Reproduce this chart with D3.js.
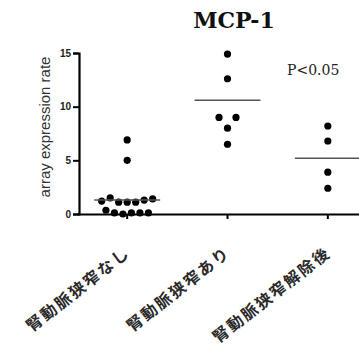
<!DOCTYPE html>
<html>
<head>
<meta charset="utf-8">
<script src="https://cdn.jsdelivr.net/npm/d3@7"></script>
<style>
  body { margin: 0; background: #fff; }
  svg { display: block; }
</style>
</head>
<body>
<svg id="plot"></svg>
<script>
// group names and values
const groups = ['腎動脈狭窄なし', '腎動脈狭窄あり', '腎動脈狭窄解除後'];
const noStenosis = [6.9, 5.0, 1.2, 1.5, 1.1, 1.1, 1.1, 1.3, 1.4, 0.35, 0.1, 0, 0.1, 0.1, 0.1];
const stenosis = [14.9, 12.6, 9.0, 8.0, 9.0, 6.5];
const afterRelease = [8.2, 6.8, 3.9, 2.4];
const meanLines = [1.3, 10.6, 5.2];
const yTicks = [0, 5, 10, 15];

const seriesList = [noStenosis, stenosis, afterRelease];

const W = 359, H = 351;
const svg = d3.select('#plot').attr('width', W).attr('height', H);

const x = d3.scaleBand().domain(groups).range([77, 378]);
const y = d3.scaleLinear().domain([0, 15]).range([214, 53]);

// y axis
svg.append('g')
  .attr('transform', 'translate(79,0)')
  .call(d3.axisLeft(y).tickValues(yTicks).tickSize(6).tickPadding(2))
  .call(g => g.select('.domain').attr('stroke-width', 2.2))
  .call(g => g.selectAll('.tick line').attr('stroke-width', 2))
  .call(g => g.selectAll('.tick text')
    .attr('font-family', 'Liberation Sans, Arial, sans-serif')
    .attr('font-size', 10).attr('font-weight', 'bold').attr('fill', '#222'));

// x axis
svg.append('g')
  .attr('transform', 'translate(0,214)')
  .call(d3.axisBottom(x).tickSize(5).tickSizeOuter(0).tickFormat(''))
  .call(g => g.select('.domain').attr('stroke-width', 2.2))
  .call(g => g.selectAll('.tick line').attr('stroke-width', 2));

// rotated category labels
svg.append('g').selectAll('text')
  .data(groups)
  .join('text')
  .attr('transform', d => `translate(${x(d) + x.bandwidth() / 2 + 4},255) rotate(-38)`)
  .attr('text-anchor', 'end')
  .attr('font-family', 'Noto Sans CJK JP, sans-serif')
  .attr('font-weight', 'bold')
  .attr('font-size', 16)
  .attr('letter-spacing', 2)
  .attr('fill', '#2a2a2a')
  .text(d => d);

// y label
svg.append('text')
  .attr('transform', 'translate(50,127) rotate(-90)')
  .attr('text-anchor', 'middle')
  .attr('font-family', 'Liberation Sans, Arial, sans-serif')
  .attr('font-size', 15)
  .attr('fill', '#333')
  .text('array expression rate');

// title and p value
svg.append('text')
  .attr('x', 234).attr('y', 28)
  .attr('text-anchor', 'middle')
  .attr('font-family', 'DejaVu Serif, serif')
  .attr('font-weight', 'bold')
  .attr('font-size', 22)
  .attr('fill', '#111')
  .text('MCP-1');

svg.append('text')
  .attr('x', 287).attr('y', 75)
  .attr('font-family', 'DejaVu Serif, serif')
  .attr('font-size', 14)
  .attr('fill', '#222')
  .text('P<0.05');

// scatter layout: points within ~11px of each other vertically share a row
// and are spread sideways in their data order
const rowH = 11.5, spacing = 8.5;
const points = [];
seriesList.forEach((vals, gi) => {
  const cx = x(groups[gi]) + x.bandwidth() / 2;
  const order = d3.range(vals.length).sort((a, b) => vals[b] - vals[a]);
  const rows = [];
  let cur = null;
  order.forEach(i => {
    const py = y(vals[i]);
    if (!cur || py - cur.top >= rowH) {
      cur = { top: py, idx: [] };
      rows.push(cur);
    }
    cur.idx.push(i);
  });
  rows.forEach(r => {
    r.idx.sort((a, b) => a - b);
    const n = r.idx.length;
    r.idx.forEach((i, k) => {
      points.push({ x: cx + (k - (n - 1) / 2) * spacing, y: y(vals[i]) });
    });
  });
});

svg.append('g').selectAll('circle')
  .data(points)
  .join('circle')
  .attr('cx', d => d.x)
  .attr('cy', d => d.y)
  .attr('r', 3.6)
  .attr('fill', '#000');

// mean lines
svg.append('g').selectAll('line')
  .data(meanLines)
  .join('line')
  .attr('x1', (d, i) => x(groups[i]) + x.bandwidth() / 2 - 33)
  .attr('x2', (d, i) => x(groups[i]) + x.bandwidth() / 2 + 33)
  .attr('y1', d => y(d))
  .attr('y2', d => y(d))
  .attr('stroke', '#555')
  .attr('stroke-width', 1.6);
</script>
</body>
</html>
